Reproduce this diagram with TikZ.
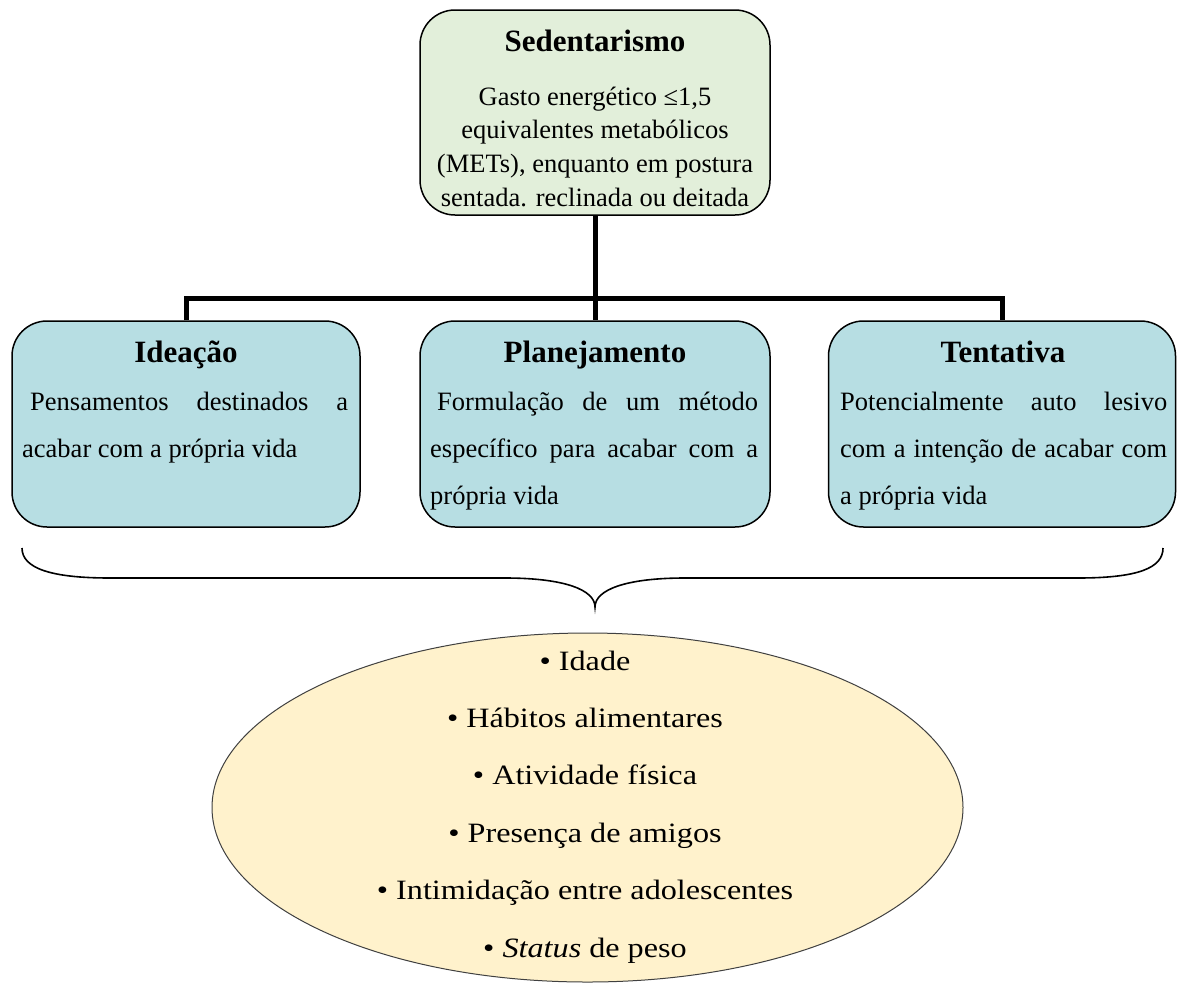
\documentclass[tikz,border=0pt]{standalone}
\usepackage{fontspec}
\setmainfont{Liberation Serif}
\newfontfamily\elipsefonte[FakeStretch=1.15]{Liberation Serif}
\usetikzlibrary{shapes.geometric}
\definecolor{verde}{RGB}{226,239,218}
\definecolor{azul}{RGB}{183,222,227}
\definecolor{creme}{RGB}{255,242,204}

\begin{document}
\begin{tikzpicture}[x=1pt, y=-1pt,
		caixa/.style = {draw, line width=1.5pt, rounded corners=35pt, inner sep=0pt},
		titulo/.style = {font=\fontsize{31}{36}\selectfont\bfseries, inner sep=0pt},
		texto/.style = {font=\fontsize{26.5}{30}\selectfont, inner sep=0pt},
		item/.style = {font=\elipsefonte\fontsize{28}{32}\selectfont, inner sep=0pt},
		ligacao/.style = {line width=5pt}]
		\useasboundingbox (0,0) rectangle (1177,983);
		% Caixas
		\node[caixa, fill=verde, minimum width=350pt, minimum height=205pt] (sed) at (595,112.5) {};
		\node[caixa, fill=azul, minimum width=348pt, minimum height=206pt] (ide) at (186,424) {};
		\node[caixa, fill=azul, minimum width=350pt, minimum height=206pt] (pla) at (595,424) {};
		\node[caixa, fill=azul, minimum width=347pt, minimum height=206pt] (ten) at (1002,424) {};
		% Ligacoes
		\coordinate (jc) at (595,298);
		\draw[ligacao] (sed.south) -- (pla.north);			% sed-pla
		\draw[ligacao] (ide.north) |- (jc) -| (ten.north);	% ide-ten
		% Sedentarismo
		\node[titulo, anchor=base] (sedt) at (595,51) {Sedentarismo};
		\foreach \linha [count=\i] in {{Gasto energético ≤1,5},{equivalentes metabólicos},{(METs), enquanto em postura},{sentada. reclinada ou deitada}}
			\node[texto, anchor=base] (sed\i) at (595,{105+33.8*(\i-1)}) {\linha};
		% Ideacao
		\node[titulo, anchor=base] (idet) at (186,362) {Ideação};
		\node[texto, anchor=base west] (ide1) at (30,410) {\makebox[318pt][s]{Pensamentos destinados a}};
		\node[texto, anchor=base west] (ide2) at (22,457) {acabar com a própria vida};
		% Planejamento
		\node[titulo, anchor=base] (plat) at (595,362) {Planejamento};
		\node[texto, anchor=base west] (pla1) at (437,410) {\makebox[321pt][s]{Formulação de um método}};
		\node[texto, anchor=base west] (pla2) at (430,457) {\makebox[328pt][s]{específico para acabar com a}};
		\node[texto, anchor=base west] (pla3) at (430,504) {própria vida};
		% Tentativa
		\node[titulo, anchor=base] (tent) at (1003,362) {Tentativa};
		\node[texto, anchor=base west] (ten1) at (840,410) {\makebox[327pt][s]{Potencialmente auto lesivo}};
		\node[texto, anchor=base west] (ten2) at (840,457) {\makebox[327pt][s]{com a intenção de acabar com}};
		\node[texto, anchor=base west] (ten3) at (840,504) {a própria vida};
		% Chave
		\draw[line width=1.6pt] (22,548) .. controls (22,568) and (50,578) .. (110,578) -- (505,578)
			.. controls (565,578) and (595,590) .. (595,607)
			.. controls (595,590) and (625,578) .. (685,578) -- (1078,578)
			.. controls (1138,578) and (1163,568) .. (1163,548);
		% Fatores
		\node[ellipse, draw=black!75, line width=1pt, fill=creme, minimum width=751pt, minimum height=349pt] (fat) at (587.5,807.5) {};
		\foreach \fator [count=\i] in {{Idade},{Hábitos alimentares},{Atividade física},{Presença de amigos},{Intimidação entre adolescentes},{\textit{Status} de peso}}
			\node[item, anchor=base] (fat\i) at (585,{670+57.4*(\i-1)}) {\textbullet\ \fator};
\end{tikzpicture}
\end{document}
